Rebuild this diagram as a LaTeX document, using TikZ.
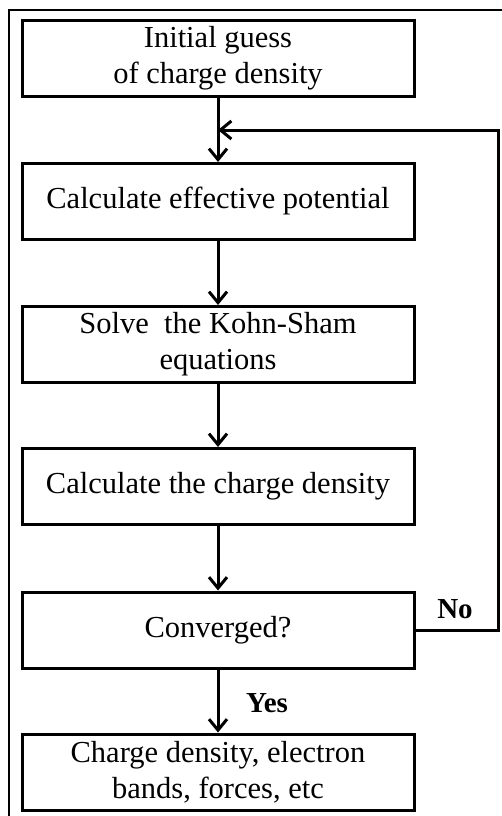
\documentclass[tikz,border=0pt]{standalone}
\usepackage{fontspec}
\setmainfont{Liberation Serif}
\usetikzlibrary{arrows.meta}
\tikzset{
  stepbox/.style={draw, line width=3pt, minimum width=392pt, minimum height=76pt,
    align=center, inner sep=0pt, font=\fontsize{30.5}{36}\selectfont},
  flow/.style={line width=3pt, -{Straight Barb[length=11pt,width=18pt]}},
  answer/.style={font=\fontsize{29}{30}\selectfont\bfseries}
}
\begin{document}
\begin{tikzpicture}[x=1pt,y=-1pt]
\useasboundingbox (0,0) rectangle (502,816);
	%frame
	\draw[line width=2pt] (9,10) rectangle (504,820);
	%boxes
\node[stepbox] (guess) at (218,58.5) {Initial guess\\of charge density};
\node[stepbox] (potential) at (218,201.5) {Calculate effective potential};
\node[stepbox] (kohnsham) at (218,344.5) {Solve\ \ the Kohn-Sham\\equations};
\node[stepbox] (density) at (218,486.5) {Calculate the charge density};
\node[stepbox] (converged) at (218,630) {Converged?};
\node[stepbox] (result) at (218,772) {Charge density, electron\\bands, forces, etc};
	%loop corners
\coordinate (join) at (218,130);
\coordinate (loopdown) at (498,630);
\coordinate (loopup) at (498,130);
	%arrows
\draw[line width=3pt] (guess) -- (join);
\draw[flow] (join) -- (potential);
\draw[flow] (potential) -- (kohnsham);
\draw[flow] (kohnsham) -- (density);
\draw[flow] (density) -- (converged);
\draw[flow] (converged) -- (result);
\draw[flow] (converged.east) -- (loopdown) -- (loopup) -- (join);
	%labels
\node[answer] (no) at (455,609) {No};
\node[answer] (yes) at (267,703) {Yes};
\end{tikzpicture}
\end{document}
